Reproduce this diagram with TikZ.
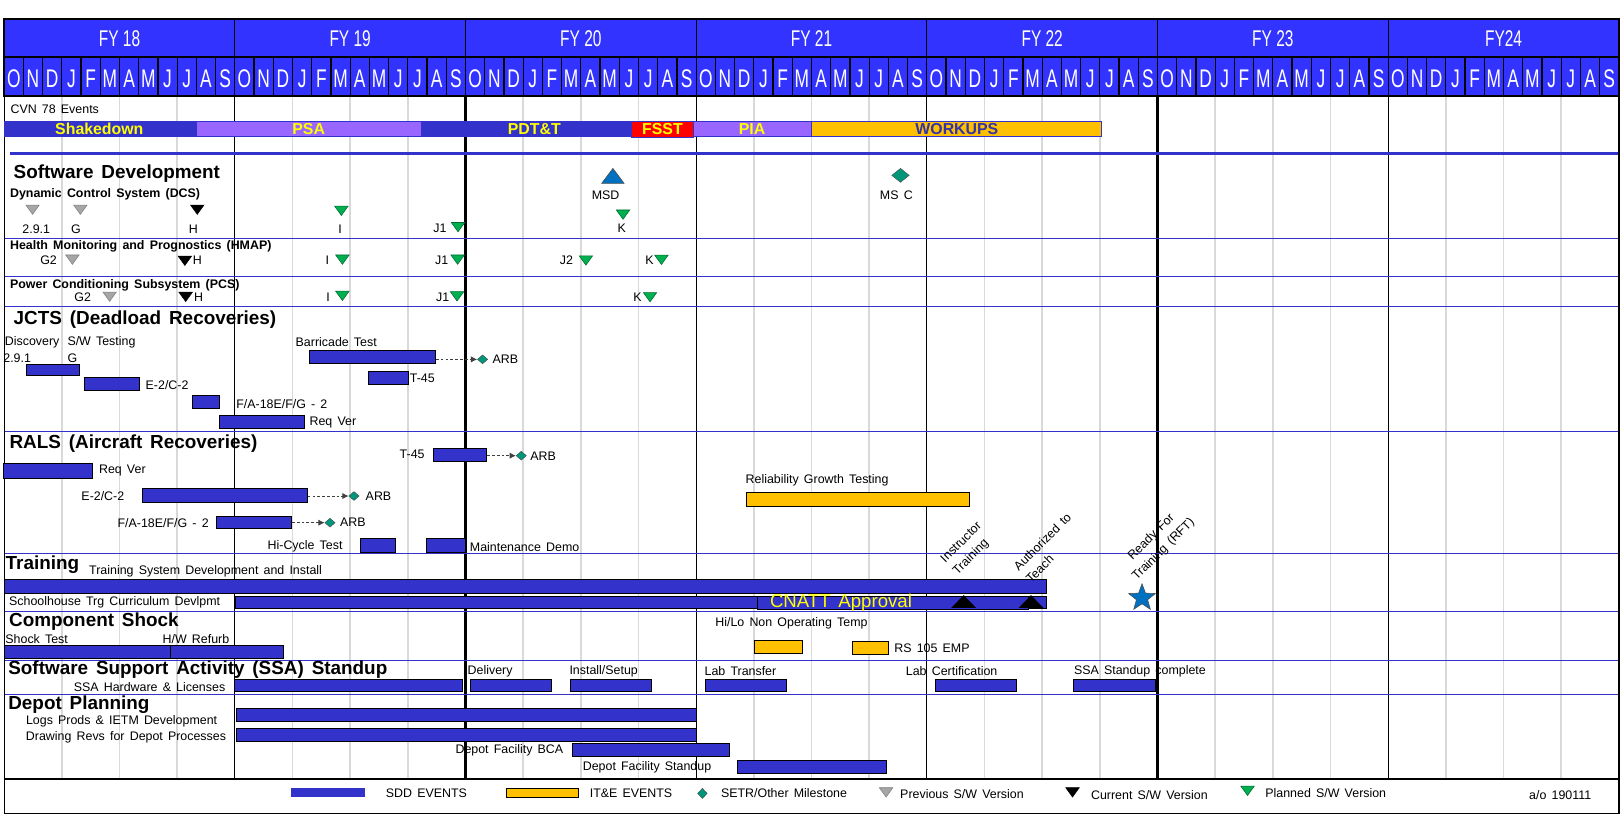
\documentclass[tikz,border=0pt]{standalone}
\usepackage{fontspec}
\setmainfont{Liberation Sans}[WordSpace=1.5]
\newfontfamily\hdrfont{Liberation Sans}[FakeStretch=0.68]
\usetikzlibrary{shapes.geometric,fit,arrows.meta}
\definecolor{hdrblue}{HTML}{3333FF}
\definecolor{sddblue}{HTML}{3333CC}
\definecolor{psapurple}{HTML}{9966FF}
\definecolor{iteorange}{HTML}{FFC000}
\definecolor{fsstred}{HTML}{FF0000}
\definecolor{txtyellow}{HTML}{FFFF00}
\definecolor{workblue}{HTML}{3333AA}
\definecolor{tgreenc}{HTML}{00B050}
\definecolor{diagreen}{HTML}{00967A}
\definecolor{msdblue}{HTML}{0070C0}
\definecolor{gridgray}{HTML}{D9D9D9}
\definecolor{rowblue}{HTML}{3333CC}
\newcommand\mkdtri[4]{\coordinate (#1) at (#2,#3);
  \filldraw[#4, line width=0.4pt, shift={(#2,#3)}] (-6.5,-4.5) -- (6.5,-4.5) -- (0,4.5) -- cycle;}
\begin{document}
\begin{tikzpicture}[x=0.75pt,y=-0.75pt,
  gridq/.style={draw=gridgray, line width=1.2pt},
  fythin/.style={draw=black, line width=0.9pt},
  fythick/.style={draw=black, line width=1.8pt},
  rowline/.style={draw=rowblue, line width=0.7pt},
  sddbar/.style={draw=black, fill=sddblue, line width=0.5pt, inner sep=0pt},
  itebar/.style={draw=black, fill=iteorange, line width=0.5pt, inner sep=0pt},
  phasebar/.style={draw=sddblue, line width=0.5pt, inner sep=0pt},
  phasetxt/.style={font=\bfseries\fontsize{11.5}{13}\selectfont, text=txtyellow, inner sep=0pt},
  lbl/.style={font=\fontsize{9}{11}\selectfont, inner sep=0pt, anchor=west},
  lble/.style={lbl, anchor=east},
  lblc/.style={lbl, anchor=center},
  rotlbl/.style={font=\fontsize{9}{12.5}\selectfont, inner sep=0pt, anchor=center, rotate=45},
  sect/.style={font=\bfseries\fontsize{13.7}{16}\selectfont, inner sep=0pt, anchor=west},
  subsect/.style={font=\bfseries\fontsize{9}{11}\selectfont, inner sep=0pt, anchor=west},
  fytxt/.style={font=\hdrfont\fontsize{16.5}{18}\selectfont, text=white, inner sep=0pt},
  montxt/.style={font=\hdrfont\fontsize{18.5}{20}\selectfont, text=white, inner sep=0pt},
  tgray/.style={fill=black!35, draw=black!50},
  tblack/.style={fill=black, draw=black},
  tgreen/.style={fill=tgreenc, draw=tgreenc!60!black},
  dia/.style={diamond, fill=diagreen, draw=black!70, line width=0.3pt, inner sep=0pt},
  arbarrow/.style={draw=black!75, dashed, dash pattern=on 2pt off 1.5pt, line width=0.6pt, -{Latex[length=4.5pt,width=4.5pt]}}
]
\useasboundingbox (0,0) rectangle (1568,789);
\fill[white] (0,0) rectangle (1568,789);

% grid
\foreach \f in {0,...,6}{\foreach \k in {1,2,3}{\draw[gridq] ({4+\f*223+\k*55.75},93) -- ({4+\f*223+\k*55.75},752);}}
\foreach \f/\s in {1/fythin,2/fythick,3/fythin,4/fythin,5/fythick,6/fythin}{\draw[\s] ({4+\f*223},93) -- ({4+\f*223},752);}
\foreach \yy in {230.4,267.5,296.3,416.7,535,591.3,638.6,671.2}{\draw[rowline] (4,\yy) -- (1565,\yy);}
\draw[rowblue, line width=2pt] (10,148.2) -- (1565,148.2);

% header
\fill[hdrblue] (4,18) rectangle (1565,93);
\foreach \m in {1,...,83}{\draw[line width=0.9pt] ({4+\m*18.583},55) -- ({4+\m*18.583},93);}
\foreach \f in {1,...,6}{\draw[line width=0.8pt] ({4+\f*223},18) -- ({4+\f*223},55);}
\draw[line width=1.6pt] (4,18) rectangle (1565,93);
\draw[line width=1.4pt] (4,55) -- (1565,55);
\foreach \t [count=\i from 0] in {FY 18,FY 19,FY 20,FY 21,FY 22,FY 23,FY24}{\node[fytxt] (fy\i) at ({4+223*(\i+0.5)},37.5) {\t};}
\foreach \f in {0,...,6}{\foreach \l [count=\i from 0] in {O,N,D,J,F,M,A,M,J,J,A,S}{\node[montxt] (m\f-\i) at ({4+18.583*(12*\f+\i+0.5)},76.5) {\l};}}

% frame
\draw[line width=0.9pt] (4,93) -- (4,786.5) -- (1565,786.5) -- (1565,93);
\draw[line width=1.6pt] (4,752.7) -- (1565,752.7);

% CVN 78 events
\node[lbl] (cvn) at (10,105.7) {CVN 78 Events};
\node[phasebar, fill=sddblue, fit={(4,117.6)(189.6,132.1)}] (shake) {};
\node[phasebar, fill=psapurple, fit={(189.6,117.6)(407,132.1)}] (psa) {};
\node[phasebar, fill=sddblue, fit={(407,117.6)(610.8,132.1)}] (pdtt) {};
\node[phasebar, fill=fsstred, fit={(610.8,117.6)(670,133)}] (fsst) {};
\node[phasebar, fill=psapurple, fit={(670,117.6)(784.5,132.1)}] (pia) {};
\node[phasebar, fill=iteorange, fit={(784.5,117.6)(1064.8,132.1)}] (workups) {};
\node[phasetxt] (shaket) at (96,125) {Shakedown};
\node[phasetxt] (psat) at (298.4,125) {PSA};
\node[phasetxt] (pdttt) at (516.5,125) {PDT\&T};
\node[phasetxt] (fsstt) at (640.4,125) {FSST};
\node[phasetxt] (piat) at (727,125) {PIA};
\node[phasetxt, text=workblue] (workupst) at (925,125) {WORKUPS};

% Software development
\node[sect] (swdev) at (13,167.6) {Software Development};
\node[subsect] (dcs) at (9.5,188.2) {Dynamic Control System (DCS)};
\mkdtri{d291}{31.5}{202.7}{tgray}
\node[lblc] (d291l) at (35,221.7) {2.9.1};
\mkdtri{dG}{77.7}{202.7}{tgray}
\node[lblc] (dGl) at (73.4,221.7) {G};
\mkdtri{dH}{190.7}{202.7}{tblack}
\node[lblc] (dHl) at (187,221.7) {H};
\mkdtri{dI}{330}{203.8}{tgreen}
\node[lblc] (dIl) at (328.8,221.7) {I};
\mkdtri{dJ}{442.8}{219.6}{tgreen}
\node[lble] (dJl) at (432,221) {J1};
\coordinate (msd) at (592.5,170);
\filldraw[fill=msdblue, draw=black!70, line width=0.4pt, shift={(592.5,170)}] (-10.8,7.2) -- (10.8,7.2) -- (0,-7.2) -- cycle;
\node[lblc] (msdl) at (585.4,188.5) {MSD};
\mkdtri{dK}{602.3}{207.5}{tgreen}
\node[lblc] (dKl) at (601,220.7) {K};
\node[dia, minimum width=12.75pt, minimum height=10.2pt] (msc) at (870.5,169.5) {};
\node[lblc] (mscl) at (866.5,188.5) {MS C};

\node[subsect] (hmap) at (9.5,237.8) {Health Monitoring and Prognostics (HMAP)};
\node[lblc] (hG2l) at (47,251.4) {G2};
\mkdtri{hG2}{70}{251}{tgray}
\mkdtri{hH}{178.7}{252.1}{tblack}
\node[lblc] (hHl) at (190.8,251.4) {H};
\node[lblc] (hIl) at (316.4,251.4) {I};
\mkdtri{hI}{331}{251}{tgreen}
\node[lblc] (hJ1l) at (427,251.4) {J1};
\mkdtri{hJ1}{442.4}{251}{tgreen}
\node[lblc] (hJ2l) at (547.5,251.4) {J2};
\mkdtri{hJ2}{566.4}{251.8}{tgreen}
\node[lblc] (hKl) at (628,251.8) {K};
\mkdtri{hK}{639.4}{251.2}{tgreen}

\node[subsect] (pcs) at (9.5,275.5) {Power Conditioning Subsystem (PCS)};
\node[lblc] (pG2l) at (79.9,287) {G2};
\mkdtri{pG2}{106}{286.8}{tgray}
\mkdtri{pH}{179.5}{287}{tblack}
\node[lblc] (pHl) at (192,287) {H};
\node[lblc] (pIl) at (317.2,287) {I};
\mkdtri{pI}{331}{286}{tgreen}
\node[lblc] (pJ1l) at (427.9,287) {J1};
\mkdtri{pJ1}{441.8}{286.5}{tgreen}
\node[lblc] (pKl) at (616.3,287.3) {K};
\mkdtri{pK}{628.4}{287.3}{tgreen}

% JCTS
\node[sect] (jcts) at (13,308.7) {JCTS (Deadload Recoveries)};
\node[lbl] (disc) at (4.5,331) {Discovery};
\node[lbl] (swt) at (65,331) {S/W Testing};
\node[lbl] (j291) at (3,346) {2.9.1};
\node[lbl] (jG) at (65,346) {G};
\node[sddbar, fit={(25.1,352.2)(77,362.8)}] (jb1) {};
\node[sddbar, fit={(81.8,364.5)(134.7,377.3)}] (je2) {};
\node[lbl] (je2l) at (140.6,372.2) {E-2/C-2};
\node[sddbar, fit={(185.7,382.2)(211.9,394.7)}] (jfa) {};
\node[lbl] (jfal) at (228.2,390.2) {F/A-18E/F/G - 2};
\node[sddbar, fit={(212,401.5)(294,414)}] (jreq) {};
\node[lbl] (jreql) at (299,408.6) {Req Ver};
\node[lbl] (barrl) at (285.6,331) {Barricade Test};
\node[sddbar, fit={(299,338.4)(421,351.3)}] (barr) {};
\node[dia, minimum width=7.5pt, minimum height=6.5pt] (arb1) at (466.5,347.4) {};
\draw[arbarrow] (barr.east |- arb1.west) -- (arb1.west);
\node[lbl] (arb1l) at (476,347.4) {ARB};
\node[sddbar, fit={(355.9,358.7)(394.4,371.6)}] (jt45) {};
\node[lbl] (jt45l) at (396,365.7) {T-45};

% RALS
\node[sect] (rals) at (9,428.6) {RALS (Aircraft Recoveries)};
\node[lble] (rt45l) at (410.7,439.2) {T-45};
\node[sddbar, fit={(418.8,433.4)(470.6,446.3)}] (rt45) {};
\node[dia, minimum width=7.5pt, minimum height=6.5pt] (arb2) at (503.9,440.5) {};
\draw[arbarrow] (rt45.east |- arb2.west) -- (arb2.west);
\node[lbl] (arb2l) at (512.4,440.8) {ARB};
\node[sddbar, fit={(3.7,448)(89.2,462.4)}] (rreq) {};
\node[lbl] (rreql) at (95.5,455) {Req Ver};
\node[lbl] (re2l) at (78.5,479.2) {E-2/C-2};
\node[sddbar, fit={(137.7,472.4)(297.1,485.6)}] (re2) {};
\node[dia, minimum width=7.5pt, minimum height=6.5pt] (arb3) at (342.2,479.5) {};
\draw[arbarrow] (re2.east |- arb3.west) -- (arb3.west);
\node[lbl] (arb3l) at (353.3,479.5) {ARB};
\node[lble] (rfal) at (202,505.3) {F/A-18E/F/G - 2};
\node[sddbar, fit={(209.4,498.8)(281.9,511.1)}] (rfa) {};
\node[dia, minimum width=7.5pt, minimum height=6.5pt] (arb4) at (319,505.3) {};
\draw[arbarrow] (rfa.east |- arb4.west) -- (arb4.west);
\node[lbl] (arb4l) at (328.5,505.3) {ARB};
\node[lbl] (hicl) at (258.5,528.5) {Hi-Cycle Test};
\node[sddbar, fit={(348.5,520.7)(382.2,534)}] (hic) {};
\node[sddbar, fit={(412.5,520.7)(449.5,534)}] (maint) {};
\node[lbl] (maintl) at (454,528.5) {Maintenance Demo};
\node[lbl] (relgl) at (720.6,464) {Reliability Growth Testing};
\node[itebar, fit={(721.8,476)(937,489.5)}] (relg) {};

% Training
\node[sect] (train) at (5.2,546.2) {Training};
\node[lbl] (tsdil) at (86,552.6) {Training System Development and Install};
\node[sddbar, fit={(4,560)(1011.8,573.6)}] (tsdi) {};
\node[lbl] (shtrgl) at (8.6,582.6) {Schoolhouse Trg Curriculum Devlpmt};
\node[sddbar, fit={(227.9,576.8)(1011.8,588)}] (shtrg) {};
\node[sddbar, fit={(731.7,576.8)(994.4,589)}] (cnatt) {};
\node[text=txtyellow, font=\fontsize{13.5}{15}\selectfont, inner sep=0pt] (cnattl) at (813,582.6) {CNATT Approval};
\coordinate (itr) at (931.6,581.5);
\fill[black, shift={(931.6,581.5)}] (-12,6.2) -- (12,6.2) -- (0,-6.2) -- cycle;
\coordinate (att) at (996.7,581.5);
\fill[black, shift={(996.7,581.5)}] (-12,6.2) -- (12,6.2) -- (0,-6.2) -- cycle;
\node[rotlbl, align=left] (itrl) at (935.5,530.5) {Instructor\\Training};
\node[rotlbl, align=left] (attl) at (1013.5,529.5) {Authorized to\\Teach};
\node[rotlbl, align=center] (rftl) at (1119,525.5) {Ready For\\Training (RFT)};
\node[star, star points=5, star point ratio=2.4, fill=msdblue, draw=black!70, line width=0.4pt, minimum size=20.5pt, inner sep=0pt] (rft) at (1104,578) {};

% Component shock
\node[sect] (comp) at (8.6,601) {Component Shock};
\node[lbl] (shockl) at (5,617.5) {Shock Test};
\node[lbl] (hwl) at (157,617.5) {H/W Refurb};
\node[sddbar, fit={(4.3,624)(164.9,636.8)}] (shock) {};
\node[sddbar, fit={(164.9,624)(274,636.8)}] (hw) {};
\node[lbl] (hilol) at (691.3,602.6) {Hi/Lo Non Operating Temp};
\node[itebar, fit={(729.4,619)(776,631.6)}] (hilo) {};
\node[itebar, fit={(824.2,619.7)(858.9,632.3)}] (rs105) {};
\node[lbl] (rs105l) at (864.3,626.8) {RS 105 EMP};

% SSA
\node[sect] (ssa) at (7.8,647.7) {Software Support Activity (SSA) Standup};
\node[lble] (ssahwl) at (218,663.8) {SSA Hardware \& Licenses};
\node[sddbar, fit={(227,656.7)(447,668.7)}] (ssahw) {};
\node[lbl] (delivl) at (451.9,649.3) {Delivery};
\node[sddbar, fit={(454.9,656.7)(533,668.7)}] (deliv) {};
\node[lbl] (instl) at (550.3,649.3) {Install/Setup};
\node[sddbar, fit={(551.5,656.7)(629.3,668.7)}] (inst) {};
\node[lbl] (labtl) at (680.9,649) {Lab Transfer};
\node[sddbar, fit={(682,656.7)(760.4,668.3)}] (labt) {};
\node[lbl] (labcl) at (875.5,649) {Lab Certification};
\node[sddbar, fit={(904.4,656.7)(982.8,668.3)}] (labc) {};
\node[lbl] (ssacl) at (1038,649) {SSA Standup complete};
\node[sddbar, fit={(1037.6,656.7)(1117,668.3)}] (ssac) {};

% Depot planning
\node[sect] (depot) at (7.8,681.6) {Depot Planning};
\node[lble] (logsl) at (210.2,697.7) {Logs Prods \& IETM Development};
\node[sddbar, fit={(228,684.8)(673,697.7)}] (logs) {};
\node[lble] (drawl) at (218.8,713.2) {Drawing Revs for Depot Processes};
\node[sddbar, fit={(228,704.4)(673,717)}] (draw) {};
\node[lble] (bcal) at (544.7,725.7) {Depot Facility BCA};
\node[sddbar, fit={(553.3,718.6)(705,731.5)}] (bca) {};
\node[lbl] (dfsl) at (563.2,742.2) {Depot Facility Standup};
\node[sddbar, fit={(712.8,735)(857,747.6)}] (dfs) {};

% legend
\node[fill=sddblue, inner sep=0pt, fit={(281.4,761.8)(352.5,770.8)}] (lgsdd) {};
\node[lbl] (lgsddl) at (372.8,767) {SDD EVENTS};
\node[itebar, fit={(489.5,762)(558.8,770.8)}] (lgite) {};
\node[lbl] (lgitel) at (569.9,767) {IT\&E EVENTS};
\node[dia, minimum width=7pt, minimum height=7.5pt] (lgdia) at (679,767) {};
\node[lbl] (lgdial) at (696.8,767) {SETR/Other Milestone};
\mkdtri{lgprev}{856.6}{766}{tgray}
\node[lbl] (lgprevl) at (870,767.5) {Previous S/W Version};
\mkdtri{lgcur}{1036.8}{766}{tblack}
\node[lbl] (lgcurl) at (1054.5,768.5) {Current S/W Version};
\mkdtri{lgplan}{1206}{764.5}{tgreen}
\node[lbl] (lgplanl) at (1223,767) {Planned S/W Version};
\node[lbl] (aol) at (1478,768.5) {a/o 190111};
\end{tikzpicture}
\end{document}
